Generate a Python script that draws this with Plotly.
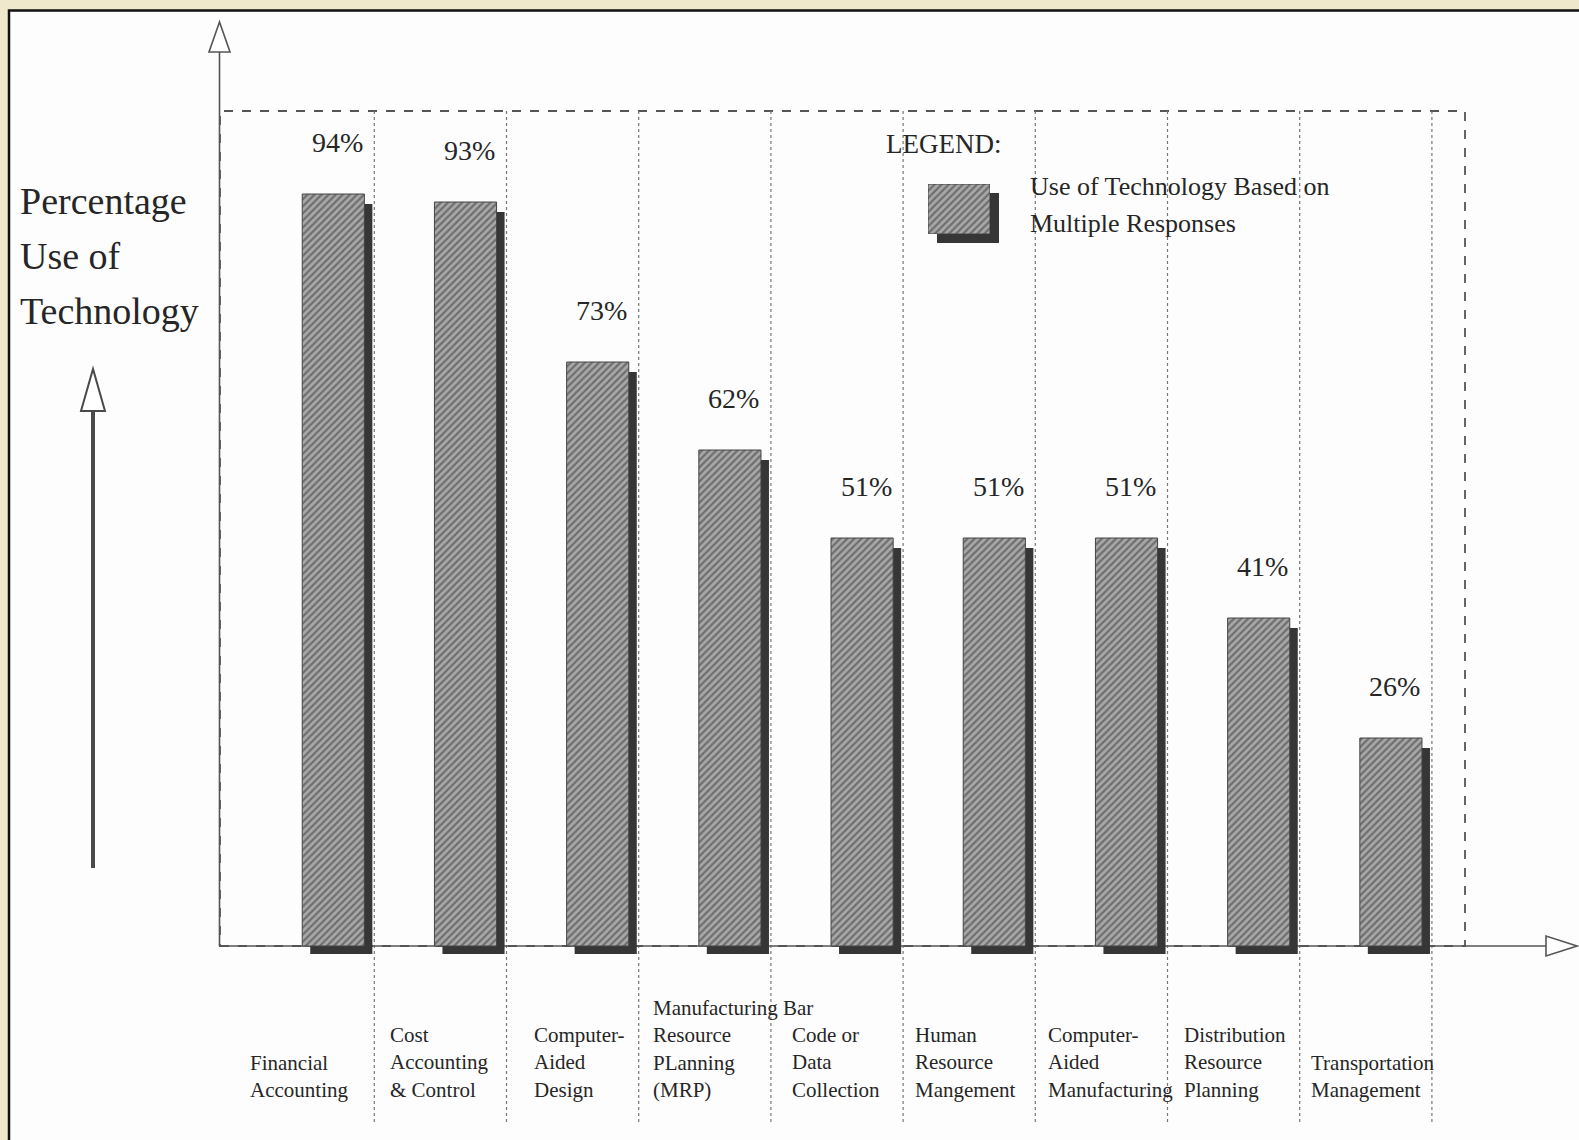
import plotly.graph_objects as go

# ---------------- data ----------------
categories = [
    "Financial Accounting",
    "Cost Accounting & Control",
    "Computer-Aided Design",
    "Manufacturing Resource PLanning (MRP)",
    "Bar Code or Data Collection",
    "Human Resource Mangement",
    "Computer-Aided Manufacturing",
    "Distribution Resource Planning",
    "Transportation Management",
]
values = [94, 93, 73, 62, 51, 51, 51, 41, 26]
value_labels = ["94%", "93%", "73%", "62%", "51%", "51%", "51%", "41%", "26%"]
category_lines = [
    "Financial<br>Accounting",
    "Cost<br>Accounting<br>& Control",
    "Computer-<br>Aided<br>Design",
    "Manufacturing Bar<br>Resource<br>PLanning<br>(MRP)",
    "Code or<br>Data<br>Collection",
    "Human<br>Resource<br>Mangement",
    "Computer-<br>Aided<br>Manufacturing",
    "Distribution<br>Resource<br>Planning",
    "Transportation<br>Management",
]
y_title_lines = ["Percentage", "Use of", "Technology"]
legend_title = "LEGEND:"
legend_lines = ["Use of Technology Based on", "Multiple Responses"]

# ---------------- geometry / style ----------------
W, H = 1579, 1140
BASE_PY = 946.0      # pixel row of the baseline
S = 8.0              # pixels per percent
C0 = 333.3           # pixel column of first category centre
D = 132.2            # pixels between categories
BAR_W = 0.47
SH_DX = 8 / D
SH_TOP = 10 / S
SH_BELOW = 8 / S

x_range = [(0 - C0) / D, (W - C0) / D]
y_range = [(BASE_PY - H) / S, BASE_PY / S]


def xp(px):
    return px / W


def yp(py):
    return 1 - py / H


INK = "#262626"
LINE = "#555555"
FONT = "Liberation Serif"
BEIGE = "#efe8cc"

hatch = dict(shape="/", fgcolor="#333333", bgcolor="#a8a8a8", size=5, solidity=0.45)

fig = go.Figure()

# shadows
fig.add_trace(go.Bar(
    x=categories, y=[v - SH_TOP + SH_BELOW for v in values], base=[-SH_BELOW] * len(values),
    width=BAR_W, offset=-BAR_W / 2 + SH_DX,
    marker=dict(color="#363636", line=dict(width=0)),
    hoverinfo="skip", showlegend=False,
))
# front hatched bars
fig.add_trace(go.Bar(
    x=categories, y=values, width=BAR_W, offset=-BAR_W / 2,
    marker=dict(color="#8f8f8f", pattern=hatch, line=dict(color="#444444", width=1)),
    name="Use of Technology Based on Multiple Responses", showlegend=False,
))
# legend swatch (hatched) on its own small axes
fig.add_trace(go.Bar(
    x=[0], y=[1], width=1, xaxis="x2", yaxis="y2",
    marker=dict(color="#8f8f8f", pattern=hatch, line=dict(color="#444444", width=1)),
    hoverinfo="skip", showlegend=False,
))

shapes = []
# white page panel with black border
shapes.append(dict(type="rect", xref="paper", yref="paper", x0=xp(9), x1=xp(W + 5), y0=yp(H + 5), y1=yp(10.5),
                   fillcolor="#fdfdfd", line=dict(color="#111111", width=2.5), layer="below"))
# dashed frame
shapes.append(dict(type="rect", xref="paper", yref="paper", x0=xp(220), x1=xp(1465), y0=yp(BASE_PY), y1=yp(111),
                   line=dict(color=LINE, width=1.8, dash="dash"), layer="below"))
# dotted separators
for i in range(len(categories)):
    sx = C0 + D * i + 41
    shapes.append(dict(type="line", xref="paper", yref="paper", x0=xp(sx), x1=xp(sx), y0=yp(111), y1=yp(1123),
                       line=dict(color="#777777", width=1.2, dash="dot"), layer="below"))
# y axis with open arrow
shapes.append(dict(type="line", xref="paper", yref="paper", x0=xp(219.5), x1=xp(219.5), y0=yp(BASE_PY), y1=yp(52),
                   line=dict(color=LINE, width=1.6), layer="below"))
shapes.append(dict(type="path", xref="paper", yref="paper",
                   path=f"M {xp(219.5)} {yp(22)} L {xp(209)} {yp(52)} L {xp(230)} {yp(52)} Z",
                   fillcolor="#ffffff", line=dict(color=LINE, width=1.6), layer="below"))
# x axis with open arrow
shapes.append(dict(type="line", xref="paper", yref="paper", x0=xp(219), x1=xp(1546), y0=yp(BASE_PY), y1=yp(BASE_PY),
                   line=dict(color=LINE, width=1.6), layer="below"))
shapes.append(dict(type="path", xref="paper", yref="paper",
                   path=f"M {xp(1577)} {yp(BASE_PY)} L {xp(1546)} {yp(BASE_PY - 10)} L {xp(1546)} {yp(BASE_PY + 10)} Z",
                   fillcolor="#ffffff", line=dict(color=LINE, width=1.6), layer="below"))
# left up-arrow
shapes.append(dict(type="line", xref="paper", yref="paper", x0=xp(93), x1=xp(93), y0=yp(868), y1=yp(410),
                   line=dict(color="#4a4a4a", width=4), layer="below"))
shapes.append(dict(type="path", xref="paper", yref="paper",
                   path=f"M {xp(93)} {yp(369)} L {xp(81)} {yp(411)} L {xp(105)} {yp(411)} Z",
                   fillcolor="#ffffff", line=dict(color="#4a4a4a", width=2), layer="below"))
# legend swatch shadow
shapes.append(dict(type="rect", xref="paper", yref="paper", x0=xp(937), x1=xp(999), y0=yp(243), y1=yp(193),
                   fillcolor="#363636", line=dict(width=0), layer="below"))

annotations = []
# value labels
for c, v, t in zip(categories, values, value_labels):
    annotations.append(dict(x=c, y=v, xref="x", yref="y", text=t, showarrow=False,
                            xanchor="center", yanchor="bottom", xshift=4, yshift=34,
                            font=dict(family=FONT, size=28, color=INK)))
# category labels (left-aligned, bottom-aligned under the axis)
label_xshift = [-85, -78, -66, -79, -72, -81, -81, -77, -82]
for c, t, dx in zip(categories, category_lines, label_xshift):
    annotations.append(dict(x=c, y=0, xref="x", yref="y", text=t, showarrow=False, align="left",
                            xanchor="left", yanchor="bottom", xshift=dx, yshift=-(1104 - BASE_PY),
                            font=dict(family=FONT, size=21, color=INK)))
# y title
for i, t in enumerate(y_title_lines):
    annotations.append(dict(x=xp(18), y=yp(201 + 55 * i), xref="paper", yref="paper", text=t, showarrow=False,
                            xanchor="left", yanchor="middle", font=dict(family=FONT, size=38, color=INK)))
# legend texts
annotations.append(dict(x=xp(884), y=yp(144), xref="paper", yref="paper", text=legend_title, showarrow=False,
                        xanchor="left", yanchor="middle", font=dict(family=FONT, size=27, color=INK)))
for i, t in enumerate(legend_lines):
    annotations.append(dict(x=xp(1028), y=yp(186 + 38 * i), xref="paper", yref="paper", text=t, showarrow=False,
                            xanchor="left", yanchor="middle", font=dict(family=FONT, size=26, color=INK)))

fig.update_layout(
    width=W, height=H,
    margin=dict(l=0, r=0, t=0, b=0),
    paper_bgcolor=BEIGE, plot_bgcolor=BEIGE,
    barmode="overlay",
    xaxis=dict(range=x_range, visible=False, type="category", fixedrange=True),
    yaxis=dict(range=y_range, visible=False, fixedrange=True),
    xaxis2=dict(domain=[xp(928), xp(990)], range=[-0.5, 0.5], visible=False, anchor="y2"),
    yaxis2=dict(domain=[yp(234), yp(184)], range=[0, 1], visible=False, anchor="x2"),
    shapes=shapes,
    annotations=annotations,
    showlegend=False,
)

fig.write_html("out.html")
